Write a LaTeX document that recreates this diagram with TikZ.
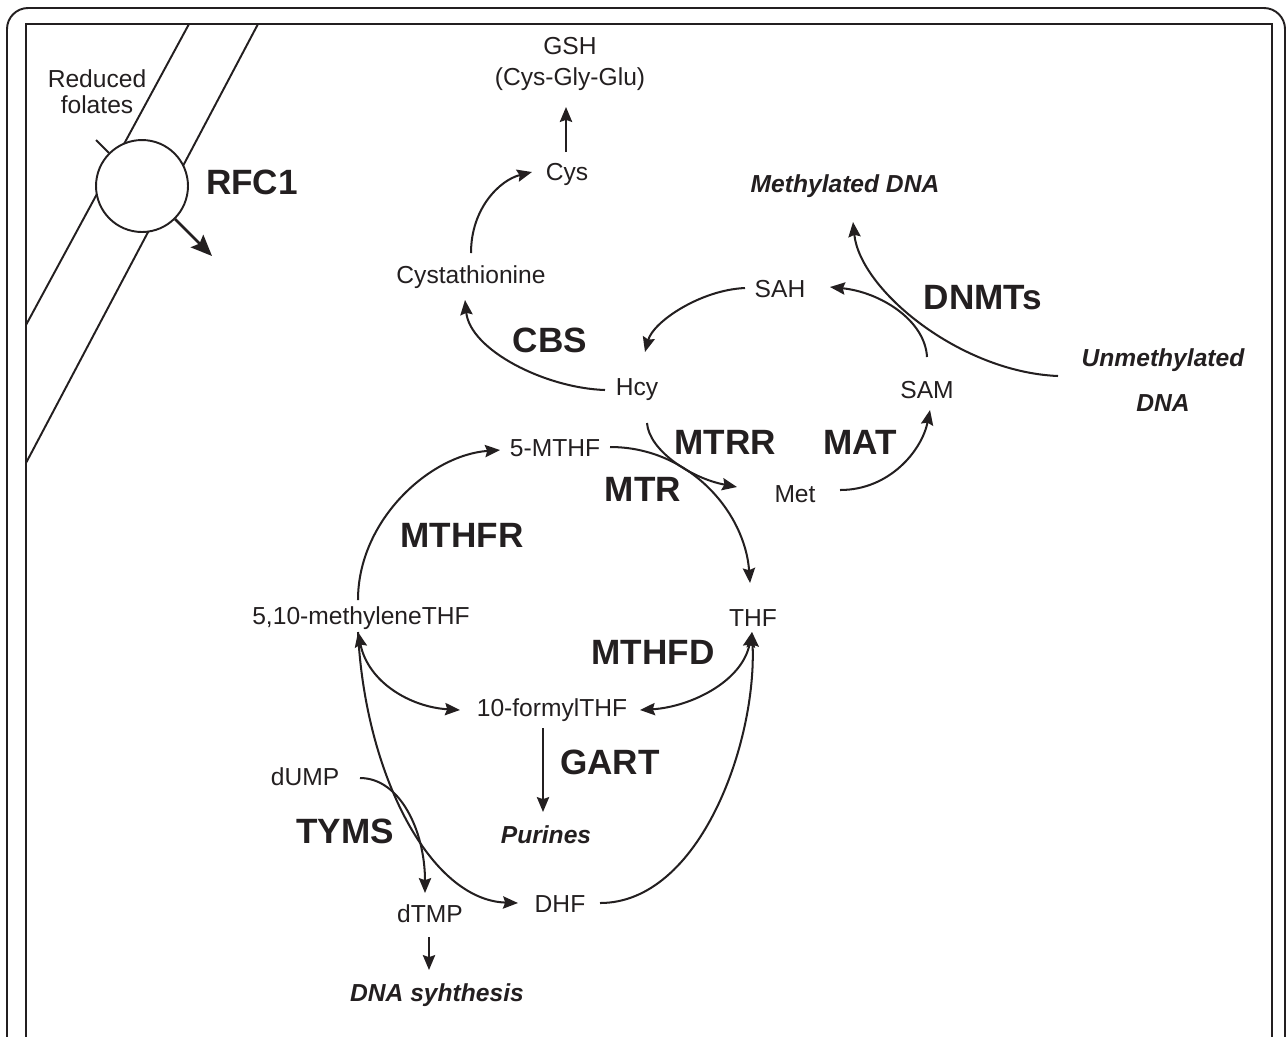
\documentclass[tikz,border=0pt]{standalone}
\usepackage{fontspec}
\setmainfont{Liberation Sans}
\usetikzlibrary{arrows.meta,calc}
\definecolor{ink}{HTML}{231F20}
\begin{document}
\begin{tikzpicture}[x=0.02cm,y=-0.02cm, color=ink,
  metab/.style={font=\fontsize{14}{16}\selectfont, inner sep=0pt},
  enz/.style={font=\fontsize{20}{22}\selectfont\bfseries, inner sep=0pt},
  prod/.style={font=\fontsize{14}{16}\selectfont\bfseries\itshape, inner sep=0pt},
  link/.style={line width=1.15pt, -{Stealth[length=8.5pt,width=7pt,inset=1.2pt]}},
  dlink/.style={line width=1.15pt, {Stealth[length=8.5pt,width=7pt,inset=1.2pt]}-{Stealth[length=8.5pt,width=7pt,inset=1.2pt]}},
  plain/.style={line width=1.1pt},
  frameline/.style={line width=1.1pt, draw=ink}
]
\useasboundingbox (0,0) rectangle (1287,1036);
\clip (0,0) rectangle (1287,1036);

% frames
\draw[frameline, rounded corners=12] (7,8) rectangle (1285,1080);
\draw[frameline] (26,24) rectangle (1272,1080);

% membrane
\draw[plain] (189,24) -- (26,325);
\draw[plain] (258,24) -- (26,463);
\node[draw, circle, fill=white, line width=1.1pt, minimum size=1.84cm, inner sep=0pt] (rfcc) at (142,186) {};
\coordinate (tickend) at (96,140);
\coordinate (inside) at (212,256);
\draw[plain] (tickend) -- (rfcc.135);
\draw[line width=1.6pt, -{Stealth[length=12pt,width=10pt,inset=2pt]}] (rfcc.-45) -- (inside);
\node[metab, align=center, font=\fontsize{14}{14.7}\selectfont] (reduced) at (97,92) {Reduced\\folates};
\node[enz] (rfc1) at (252,182) {RFC1};

% metabolites
\node[metab, align=center, font=\fontsize{14}{17.6}\selectfont] (gsh) at (570,64) {GSH\\(Cys-Gly-Glu)};
\node[metab] (cys) at (567,174) {Cys};
\node[metab] (cysta) at (471,277) {Cystathionine};
\node[metab] (sah) at (780,289) {SAH};
\node[metab] (hcy) at (637,390) {Hcy};
\node[metab] (sam) at (927,390) {SAM};
\node[metab] (met) at (795,494) {Met};
\node[metab] (mthf5) at (555,448) {5-MTHF};
\node[metab] (thf) at (753,618) {THF};
\node[metab] (methylene) at (361,618) {5,10-methyleneTHF};
\node[metab] (formyl) at (552,710) {10-formylTHF};
\node[prod] (purines) at (546,835) {Purines};
\node[metab] (dump) at (305,777) {dUMP};
\node[metab] (dtmp) at (430,914) {dTMP};
\node[metab] (dhf) at (560,904) {DHF};
\node[prod] (dnasyn) at (437,995) {DNA syhthesis};
\node[prod] (methdna) at (845,186) {Methylated DNA};
\node[prod, align=center, font=\fontsize{14}{26}\selectfont\bfseries\itshape] (unmeth) at (1163,380) {Unmethylated\\DNA};

% enzymes
\node[enz] (cbs) at (550,340) {CBS};
\node[enz] (dnmts) at (983,298) {DNMTs};
\node[enz] (mtrr) at (725,442) {MTRR};
\node[enz] (mat) at (860,442) {MAT};
\node[enz] (mtr) at (643,489) {MTR};
\node[enz] (mthfr) at (462,535) {MTHFR};
\node[enz] (mthfd) at (653,652) {MTHFD};
\node[enz] (gart) at (610,762) {GART};
\node[enz] (tyms) at (345,831) {TYMS};

% connectors
\draw[link] ($(cys)+(-1,-22)$) -- ($(gsh)+(-4,43)$);
\draw[link] ($(cysta)+(0,-24)$) .. controls +(0,-45) and +(-32,8) .. ($(cys)+(-35,-2)$);
\draw[link] ($(hcy)+(-32,0)$) .. controls +(-60,-2) and +(5,50) .. ($(cysta)+(-6,23)$);
\draw[link] ($(sah)+(-35,-1)$) .. controls +(-45,2) and +(8,-30) .. ($(hcy)+(8,-38)$);
\draw[link] ($(sam)+(0,-33)$) .. controls +(-2,-37) and +(50,5) .. ($(sah)+(50,-2)$);
\draw[link] ($(unmeth)+(-105,-4)$) .. controls +(-98,-4) and +(7,68) .. ($(methdna)+(8,36)$);
\draw[link] ($(met)+(45,-4)$) .. controls +(50,0) and +(-8,40) .. ($(sam)+(3,20)$);
\draw[link] ($(mthf5)+(55,-1)$) .. controls +(80,0) and +(-5,-70) .. ($(thf)+(-3,-35)$);
\draw[link] ($(hcy)+(10,33)$) .. controls +(2,27) and +(-47,-9) .. ($(met)+(-58,-7)$);
\draw[link] ($(methylene)+(-3,-18)$) .. controls +(0,-80) and +(-70,5) .. ($(mthf5)+(-55,2)$);
\draw[dlink] ($(methylene)+(-3,14)$) .. controls +(10,50) and +(-50,-3) .. ($(formyl)+(-92,0)$);
\draw[dlink] ($(thf)+(-1,14)$) .. controls +(-10,50) and +(50,-3) .. ($(formyl)+(88,0)$);
\draw[link] ($(formyl)+(-9,18)$) -- ($(purines)+(-3,-23)$);
\draw[link] ($(dhf)+(40,-1)$) .. controls +(100,0) and +(5,110) .. ($(thf)+(-1,14)$);
\draw[link] ($(methylene)+(-3,14)$) .. controls +(7,142) and +(-88,-3) .. ($(dhf)+(-42,-1)$);
\draw[link] ($(dump)+(55,1)$) .. controls +(40,0) and +(0,-62) .. ($(dtmp)+(-5,-21)$);
\draw[link] ($(dtmp)+(-1,23)$) -- ($(dnasyn)+(-8,-25)$);
\end{tikzpicture}
\end{document}
